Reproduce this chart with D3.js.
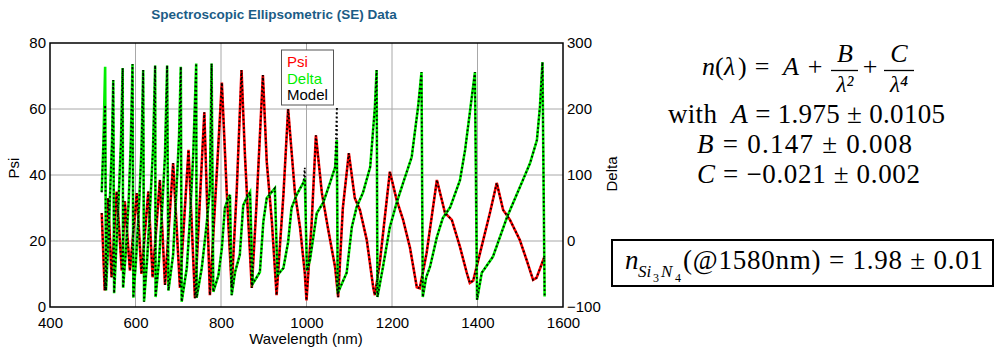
<!DOCTYPE html>
<html>
<head>
<meta charset="utf-8">
<script src="https://cdn.jsdelivr.net/npm/d3@7"></script>
<style>
  body { margin: 0; background: #fff; }
  svg { display: block; }
  text { font-family: "Liberation Sans", Arial, sans-serif; }
  .eq { font-family: "Liberation Serif", "Times New Roman", serif; font-size: 25px; white-space: pre; }
</style>
</head>
<body>
<script>
const title = "Spectroscopic Ellipsometric (SE) Data";
const xTicks = [400, 600, 800, 1000, 1200, 1400, 1600];
const psiTicks = [0, 20, 40, 60, 80];
const deltaTicks = [-100, 0, 100, 200, 300];
const legendItems = [["Psi", "#ff0000"], ["Delta", "#00ee00"], ["Model", "#000000"]];

// [wavelength (nm), Psi (deg)]
const psiData = [
  [521, 28.5], [528, 5], [536, 33], [544, 9], [556, 35], [568, 11], [575, 32],
  [587, 11], [603, 34.5], [614, 10], [630, 35], [640, 9], [657, 38.5], [669, 6.7],
  [688, 43.6], [704, 5.8], [724, 47.6], [739, 2.7], [761, 59], [774, 3.6],
  [802, 68], [813, 36], [821, 15.8], [825, 5.8], [837, 36], [848, 71.8],
  [856, 46], [864, 25.8], [872, 5.8], [883, 31], [898, 70.3], [907, 44],
  [919, 25.8], [930, 3.6], [946, 34], [957, 60], [973, 34.5], [985, 24],
  [996, 10.3], [1000, 2], [1012, 25.4], [1022, 52], [1036, 34.5], [1050, 24],
  [1067, 12], [1074, 3], [1085, 30], [1099, 46.6], [1113, 33], [1125, 29.4],
  [1141, 20.3], [1156, 6], [1160, 3.6], [1172, 14], [1195, 41], [1211, 32.4],
  [1226, 26.4], [1242, 18], [1258, 6], [1265, 5.7], [1281, 16.4], [1305, 38.5],
  [1324, 28.5], [1340, 26.4], [1359, 18.2], [1375, 10.3], [1382, 7.3], [1390, 8],
  [1406, 16.4], [1429, 28.5], [1445, 37.6], [1460, 29.4], [1476, 26.4],
  [1499, 20.3], [1515, 14.2], [1530, 8.2], [1538, 8.8], [1556, 15]
];

// [wavelength (nm), Delta (deg)]
const deltaData = [
  [521, 74], [525, 150], [529, 264], [531, -75],
  [535, -20], [540, 60], [545, 150], [548, 244], [550, -79],
  [554, -25], [560, 55], [566, 150], [570, 262], [571, -71],
  [577, -20], [584, 60], [589, 150], [593, 268], [595, -86],
  [601, -30], [608, 50], [614, 140], [618, 259], [620, -92],
  [627, -30], [634, 50], [641, 140], [646, 266], [647, -85],
  [655, -30], [662, 45], [669, 130], [674, 266], [677, -75],
  [688, -21], [696, 80], [702, 160], [706, 264], [708, -92],
  [720, -41], [727, 29], [735, 130], [742, 269], [743, -86],
  [755, -41], [767, 29], [774, 80], [778, 269], [782, -77],
  [794, -52], [802, -11], [809, 50], [817, 65], [821, 70], [825, -82],
  [833, -47], [844, -21], [852, 54], [860, 65], [868, 74], [874, -65],
  [891, -47], [899, 29], [907, 65], [926, 80], [932, -52],
  [946, -41], [957, -1.5], [965, 50], [977, 70], [993, 89], [996, 95], [1001, -45],
  [1008, -29], [1015, 1.5], [1024, 42], [1039, 58], [1055, 88], [1067, 112], [1071, 153], [1073, -79],
  [1094, -48], [1106, 21], [1117, 51], [1132, 73], [1149, 112], [1160, 203], [1164, 259], [1166, -85],
  [1179, -39], [1195, 21], [1211, 58], [1226, 88], [1246, 127], [1261, 203], [1269, 256], [1272, -85],
  [1280, -55], [1289, -39], [1305, 6], [1319, 35], [1336, 51], [1359, 92], [1371, 138], [1382, 194], [1394, 256], [1399, -89],
  [1410, -48], [1436, -24], [1469, 36], [1506, 92], [1523, 118], [1539, 153], [1546, 203], [1552, 271], [1557, -84]
];

// model fit overlays the data; a few Delta peaks of the fit differ
const modelDeltaPeaks = [[529, 206], [996, 111], [1071, 203]];
const modelPsi = psiData;
const modelDelta = deltaData.map((d) => modelDeltaPeaks.find((m) => m[0] === d[0]) || d);

const W = 995;
const H = 349;
const pL = 50, pR = 563, pT = 43, pB = 307;

const svg = d3.select("body").append("svg").attr("width", W).attr("height", H);

const x = d3.scaleLinear().domain([400, 1600]).range([pL, pR]);
const yPsi = d3.scaleLinear().domain([0, 80]).range([pB, pT]);
const yDelta = d3.scaleLinear().domain([-100, 300]).range([pB, pT]);

// title
svg.append("text")
  .attr("x", 274).attr("y", 19)
  .attr("text-anchor", "middle")
  .style("font-size", "13.5px").style("font-weight", "bold")
  .attr("fill", "#1b5c86")
  .text(title);

// grid
const grid = svg.append("g").attr("stroke", "#a8a8a8").attr("stroke-width", 1);
grid.selectAll(".gx").data(xTicks.slice(1, -1)).enter().append("line")
  .attr("x1", (d) => x(d)).attr("x2", (d) => x(d))
  .attr("y1", pT).attr("y2", pB);
grid.selectAll(".gy").data(psiTicks.slice(1, -1)).enter().append("line")
  .attr("x1", pL).attr("x2", pR)
  .attr("y1", (d) => yPsi(d)).attr("y2", (d) => yPsi(d));

svg.append("clipPath").attr("id", "plot")
  .append("rect").attr("x", pL).attr("y", pT)
  .attr("width", pR - pL).attr("height", pB - pT);

const psiLine = d3.line().x((d) => x(d[0])).y((d) => yPsi(d[1]));
const deltaLine = d3.line().x((d) => x(d[0])).y((d) => yDelta(d[1]));

const plot = svg.append("g").attr("clip-path", "url(#plot)").attr("fill", "none");
plot.append("path").datum(psiData).attr("d", psiLine)
  .attr("stroke", "#ff0000").attr("stroke-width", 2.6);
plot.append("path").datum(deltaData).attr("d", deltaLine)
  .attr("stroke", "#00ee00").attr("stroke-width", 2.6);
plot.append("path").datum(modelPsi).attr("d", psiLine)
  .attr("stroke", "#000").attr("stroke-width", 1.8).attr("stroke-dasharray", "1.8,2.4");
plot.append("path").datum(modelDelta).attr("d", deltaLine)
  .attr("stroke", "#000").attr("stroke-width", 1.8).attr("stroke-dasharray", "1.8,2.4");

// frame
svg.append("rect")
  .attr("x", pL).attr("y", pT)
  .attr("width", pR - pL).attr("height", pB - pT)
  .attr("fill", "none").attr("stroke", "#000").attr("stroke-width", 1.5);

// axes
const axisFont = (g) => {
  g.select(".domain").remove();
  g.selectAll("text").style("font-size", "15px").attr("fill", "#000")
    .style("font-family", "'Liberation Sans', Arial, sans-serif");
};
svg.append("g").attr("transform", `translate(0,${pB})`)
  .call(d3.axisBottom(x).tickValues(xTicks).tickFormat(d3.format("d")).tickSize(0).tickPadding(10))
  .call(axisFont);
svg.append("g").attr("transform", `translate(${pL},0)`)
  .call(d3.axisLeft(yPsi).tickValues(psiTicks).tickSize(0).tickPadding(4))
  .call(axisFont);
svg.append("g").attr("transform", `translate(${pR},0)`)
  .call(d3.axisRight(yDelta).tickValues(deltaTicks).tickSize(0).tickPadding(4))
  .call(axisFont);

svg.append("text")
  .attr("x", 306).attr("y", 344).attr("text-anchor", "middle")
  .style("font-size", "15px").text("Wavelength (nm)");
svg.append("text")
  .attr("transform", "translate(19,168) rotate(-90)").attr("text-anchor", "middle")
  .style("font-size", "15px").text("Psi");
svg.append("text")
  .attr("transform", "translate(617,174) rotate(-90)").attr("text-anchor", "middle")
  .style("font-size", "15px").text("Delta");

// legend
const legend = svg.append("g");
legend.append("rect")
  .attr("x", 281.5).attr("y", 50).attr("width", 52).attr("height", 55)
  .attr("fill", "#fff").attr("stroke", "#555").attr("stroke-width", 1);
legend.selectAll(".lg").data(legendItems).enter().append("text")
  .attr("x", 287).attr("y", (d, i) => 67 + i * 16.5)
  .style("font-size", "15px")
  .attr("fill", (d) => d[1])
  .text((d) => d[0]);

// Cauchy model text
const eq = svg.append("g").attr("fill", "#000");
const put = (txt, xx, yy, anchor, italic, size) =>
  eq.append("text").attr("class", "eq").attr("x", xx).attr("y", yy)
    .attr("text-anchor", anchor || "start")
    .style("font-style", italic ? "italic" : "normal")
    .style("font-size", (size || 26) + "px")
    .text(txt);

put("n", 702, 75, "start", true);
put("(", 715, 75, "start");
put("λ", 724, 75, "start", true);
put(")", 738, 75, "start");
put("=", 762, 75, "middle");
put("A", 791, 75, "middle", true);
put("+", 815, 75, "middle");
put("B", 845, 62, "middle", true);
eq.append("line").attr("x1", 831).attr("x2", 858).attr("y1", 70.5).attr("y2", 70.5)
  .attr("stroke", "#000").attr("stroke-width", 1.3);
put("λ²", 845, 92, "middle", true, 23);
put("+", 870, 75, "middle");
put("C", 899, 62, "middle", true);
eq.append("line").attr("x1", 884).attr("x2", 914).attr("y1", 70.5).attr("y2", 70.5)
  .attr("stroke", "#000").attr("stroke-width", 1.3);
put("λ⁴", 899, 92, "middle", true, 23);

const l2 = put("", 668, 123, "start", false, 27).attr("textLength", 277);
l2.append("tspan").text("with  ");
l2.append("tspan").style("font-style", "italic").text("A");
l2.append("tspan").text(" = 1.975 ± 0.0105");
const l3 = put("", 697, 153, "start", false, 27).attr("textLength", 215);
l3.append("tspan").style("font-style", "italic").text("B");
l3.append("tspan").text(" = 0.147 ± 0.008");
const l4 = put("", 697, 183, "start", false, 27).attr("textLength", 223);
l4.append("tspan").style("font-style", "italic").text("C");
l4.append("tspan").text(" = −0.021 ± 0.002");

// boxed result
svg.append("rect")
  .attr("x", 612).attr("y", 240).attr("width", 381).attr("height", 46)
  .attr("fill", "none").attr("stroke", "#000").attr("stroke-width", 2);
put("n", 625, 269, "start", true, 27);
put("Si", 638, 277, "start", true, 17);
put("3", 653, 282, "start", false, 12);
put("N", 661, 277, "start", true, 17);
put("4", 675, 282, "start", false, 12);
put("(@1580nm) = 1.98 ± 0.01", 683, 269, "start", false, 27).attr("textLength", 300);
</script>
</body>
</html>
